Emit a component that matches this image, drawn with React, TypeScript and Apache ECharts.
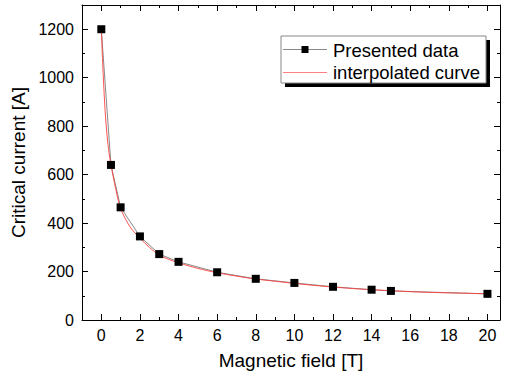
import React, { useEffect, useRef } from "react";
import * as echarts from "echarts";

const fieldT = [0, 0.5, 1, 2, 3, 4, 6, 8, 10, 12, 14, 15, 20];
const currentA = [1200, 640, 465, 345, 272, 240, 197, 170, 153, 137, 125, 120, 108];

const curveT = [0, 0.1, 0.2, 0.3, 0.4, 0.5, 0.75, 1, 1.5, 2, 2.5, 3, 3.5, 4, 5, 6, 7, 8, 9, 10, 11, 12, 13, 14, 15, 16, 17, 18, 19, 20];
const curveA = [1200, 1010, 860, 760, 690, 640, 540, 460, 383, 338, 299, 268, 250, 236, 213, 195, 181, 169, 160, 151, 143, 136, 130, 125, 121, 117, 114, 112, 110, 108];

const xMajor = [0, 2, 4, 6, 8, 10, 12, 14, 16, 18, 20];
const xMinor = [-1, 1, 3, 5, 7, 9, 11, 13, 15, 17, 19];
const yMajor = [0, 200, 400, 600, 800, 1000, 1200];
const yMinor = [100, 300, 500, 700, 900, 1100];

const FONT = "'Liberation Sans', Arial, sans-serif";

export default function App() {
  const ref = useRef<HTMLDivElement>(null);
  useEffect(() => {
    if (!ref.current) return;
    const chart = echarts.init(ref.current, undefined, { renderer: "svg" });
    const xBase = {
      type: "value" as const,
      min: -1,
      max: 20.65,
      splitLine: { show: false },
      axisLine: { onZero: false, lineStyle: { color: "#000", width: 1 } },
    };
    const yBase = {
      type: "value" as const,
      min: 0,
      max: 1300,
      splitLine: { show: false },
      axisLine: { onZero: false, lineStyle: { color: "#000", width: 1 } },
    };
    const tick = (vals: number[], len: number) => ({
      show: true,
      inside: true,
      length: len,
      customValues: vals,
      lineStyle: { color: "#000", width: 1 },
    });
    const lbl = { show: false };
    const fmt = (v: number) => String(v);
    chart.setOption({
      animation: false,
      backgroundColor: "#fff",
      grid: { left: 82, top: 5, width: 418, height: 315, containLabel: false },
      xAxis: [
        {
          ...xBase,
          position: "bottom",
          axisTick: tick(xMajor, 6),
          axisLabel: { customValues: xMajor, formatter: fmt, fontSize: 16, color: "#000", fontFamily: FONT, margin: 7 },
          name: "Magnetic field [T]",
          nameLocation: "middle",
          nameGap: 31,
          nameTextStyle: { fontSize: 19, color: "#000", fontFamily: FONT },
        },
        { ...xBase, position: "bottom", axisLine: { show: false, onZero: false }, axisTick: tick(xMinor, 3), axisLabel: lbl },
        { ...xBase, position: "top", axisTick: tick(xMajor, 6), axisLabel: lbl },
        { ...xBase, position: "top", axisLine: { show: false, onZero: false }, axisTick: tick(xMinor, 3), axisLabel: lbl },
      ],
      yAxis: [
        {
          ...yBase,
          position: "left",
          axisTick: tick(yMajor, 6),
          axisLabel: { customValues: yMajor, formatter: fmt, fontSize: 16, color: "#000", fontFamily: FONT, margin: 8 },
          name: "Critical current [A]",
          nameLocation: "middle",
          nameGap: 54,
          nameTextStyle: { fontSize: 19, color: "#000", fontFamily: FONT },
        },
        { ...yBase, position: "left", axisLine: { show: false, onZero: false }, axisTick: tick(yMinor, 3), axisLabel: lbl },
        { ...yBase, position: "right", axisTick: tick(yMajor, 6), axisLabel: lbl },
        { ...yBase, position: "right", axisLine: { show: false, onZero: false }, axisTick: tick(yMinor, 3), axisLabel: lbl },
      ],
      series: [
        {
          name: "Presented data line",
          type: "line",
          data: fieldT.map((t, i) => [t, currentA[i]]),
          showSymbol: false,
          symbol: "none",
          lineStyle: { color: "#888", width: 1 },
          z: 2,
        },
        {
          name: "interpolated curve",
          type: "line",
          data: curveT.map((t, i) => [t, curveA[i]]),
          smooth: 0.3,
          symbol: "none",
          showSymbol: false,
          lineStyle: { color: "#ff4040", width: 0.9 },
          z: 3,
        },
        {
          name: "Presented data",
          type: "scatter",
          data: fieldT.map((t, i) => [t, currentA[i]]),
          symbol: "rect",
          symbolSize: 8,
          itemStyle: { color: "#000", opacity: 1 },
          z: 4,
        },
      ],
      graphic: [
        { type: "rect", shape: { x: 285, y: 40, width: 205, height: 47 }, style: { fill: "#000" }, z: 10 },
        { type: "rect", shape: { x: 281, y: 36, width: 205, height: 47 }, style: { fill: "#fff", stroke: "#888", lineWidth: 1 }, z: 11 },
        { type: "line", shape: { x1: 283, y1: 49.5, x2: 327, y2: 49.5 }, style: { stroke: "#888", lineWidth: 1 }, z: 12 },
        { type: "rect", shape: { x: 301.5, y: 46, width: 7, height: 7 }, style: { fill: "#000" }, z: 13 },
        { type: "text", x: 333, y: 50, style: { text: "Presented data", font: `18.5px ${FONT}`, fill: "#000", verticalAlign: "middle" }, z: 12 },
        { type: "line", shape: { x1: 283, y1: 72.5, x2: 327, y2: 72.5 }, style: { stroke: "#ff8080", lineWidth: 1 }, z: 12 },
        { type: "text", x: 333, y: 72, style: { text: "interpolated curve", font: `18.5px ${FONT}`, fill: "#000", verticalAlign: "middle" }, z: 12 },
      ],
    });
    return () => chart.dispose();
  }, []);
  return <div ref={ref} style={{ position: "fixed", left: 0, top: 0, width: 505, height: 379 }} />;
}
